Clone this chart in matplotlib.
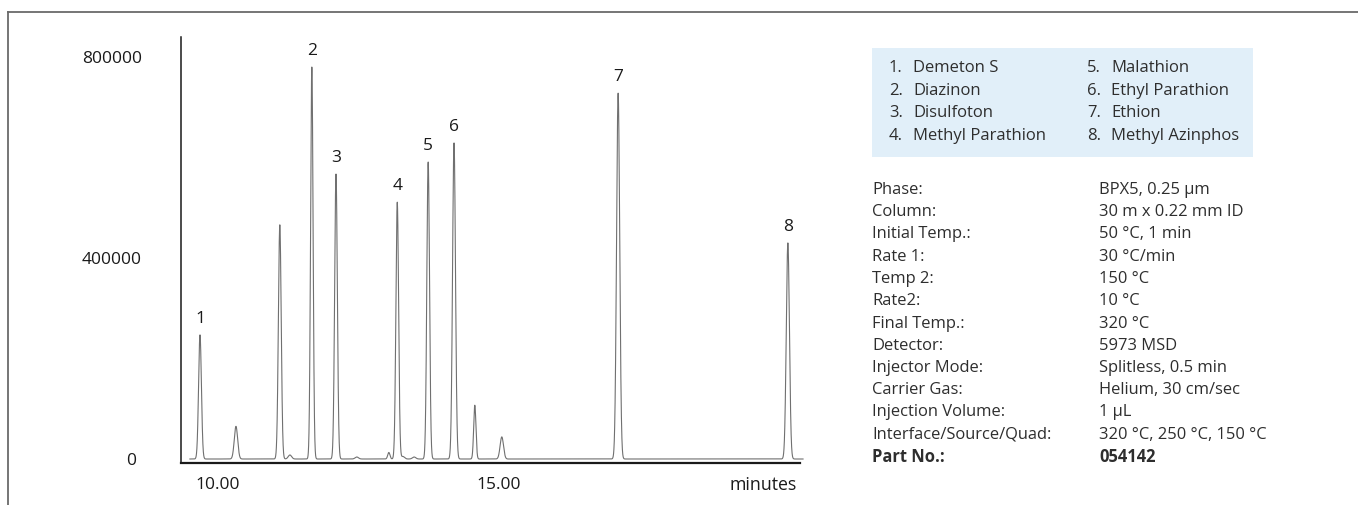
import numpy as np
import matplotlib
matplotlib.use("Agg")
import matplotlib.pyplot as plt
from matplotlib.patches import Rectangle
from matplotlib.lines import Line2D

plt.rcParams['font.family'] = ['Open Sans', 'DejaVu Sans']

# ---- data ----
peak_times = [9.68, 10.32, 11.10, 11.28, 11.67, 12.10, 12.47, 13.04, 13.19, 13.29, 13.49, 13.74, 14.20, 14.57, 15.05, 17.12, 20.14]
peak_heights = [247000, 65000, 466000, 8000, 780000, 567000, 4000, 13000, 511000, 5000, 4000, 591000, 629000, 107000, 44000, 728000, 430000]
peak_labels = ["1", "", "", "", "2", "3", "", "", "4", "", "", "5", "6", "", "", "7", "8"]
peak_widths = [0.025, 0.03, 0.025, 0.03, 0.022, 0.024, 0.03, 0.02, 0.024, 0.03, 0.03, 0.024, 0.026, 0.02, 0.03, 0.028, 0.028]
trace_start, trace_end = 9.50, 20.41

y_ticks = [0, 400000, 800000]
y_ticklabels = ["0", "400000", "800000"]
x_ticks = [10.0, 15.0]
x_ticklabels = ["10.00", "15.00"]
x_unit = "minutes"

compounds_left = ["Demeton S", "Diazinon", "Disulfoton", "Methyl Parathion"]
compounds_right = ["Malathion", "Ethyl Parathion", "Ethion", "Methyl Azinphos"]

param_names = ["Phase:", "Column:", "Initial Temp.:", "Rate 1:", "Temp 2:", "Rate2:",
               "Final Temp.:", "Detector:", "Injector Mode:", "Carrier Gas:",
               "Injection Volume:", "Interface/Source/Quad:", "Part No.:"]
param_values = ["BPX5, 0.25 µm", "30 m x 0.22 mm ID", "50 °C, 1 min", "30 °C/min", "150 °C",
                "10 °C", "320 °C", "5973 MSD", "Splitless, 0.5 min", "Helium, 30 cm/sec",
                "1 µL", "320 °C, 250 °C, 150 °C", "054142"]

# ---- figure ----
W, H = 1358, 505
fig = plt.figure(figsize=(W / 100, H / 100), dpi=100)
fig.patch.set_facecolor("white")

def fx(px):
    return px / W

def fy(py):
    return 1 - py / H

# outer frame (top and left edges)
fig.add_artist(Line2D([fx(8), 1.0], [fy(12), fy(12)], color="#6a6a6a", lw=1.3))
fig.add_artist(Line2D([fx(8), fx(8)], [fy(12), 0.0], color="#6a6a6a", lw=1.3))

ax = fig.add_axes([fx(181), fy(463), fx(800) - fx(181), fy(37) - fy(463)])
t = np.linspace(trace_start, trace_end, 20000)
sig = np.zeros_like(t)
for pt, ph, pw in zip(peak_times, peak_heights, peak_widths):
    sig += ph * np.exp(-0.5 * ((t - pt) / pw) ** 2)
ax.plot(t, sig, color="#707070", lw=0.8, clip_on=False)

for pt, ph, lab in zip(peak_times, peak_heights, peak_labels):
    if lab:
        ax.annotate(lab, (pt, ph), xytext=(0, 6), textcoords="offset points",
                    ha="center", va="bottom", fontsize=12.5, color="#1a1a1a")

ax.set_xlim(9.342, 20.356)
ax.set_ylim(-7960, 839780)
for s in ["top", "right"]:
    ax.spines[s].set_visible(False)
ax.spines["left"].set_color("#1a1a1a")
ax.spines["bottom"].set_color("#1a1a1a")
ax.spines["left"].set_linewidth(1.1)
ax.spines["bottom"].set_linewidth(1.6)
ax.set_yticks(y_ticks)
ax.set_yticklabels(y_ticklabels, fontsize=12.5, color="#1a1a1a")
ax.set_xticks(x_ticks)
ax.set_xticklabels(x_ticklabels, fontsize=12.5, color="#1a1a1a")
ax.tick_params(axis="y", length=0, pad=28)
ax.tick_params(axis="x", length=0, pad=10)
ax.yaxis.get_ticklabels()[0].set_x(-0.01)
ax.text(fx(763), fy(485), x_unit, transform=fig.transFigure, ha="center", va="center",
        fontsize=12.8, color="#1a1a1a")

# legend box
fig.add_artist(Rectangle((fx(872), fy(157)), fx(1253) - fx(872), fy(48) - fy(157),
                         transform=fig.transFigure, facecolor="#e1eff9", edgecolor="none"))
rows_y = [68, 91, 113, 136]
tc = "#2e2e2e"
for i, name in enumerate(compounds_left):
    fig.text(fx(889), fy(rows_y[i]), f"{i + 1}.", ha="left", va="center", fontsize=12, color=tc)
    fig.text(fx(913), fy(rows_y[i]), name, ha="left", va="center", fontsize=12, color=tc)
for i, name in enumerate(compounds_right):
    fig.text(fx(1087), fy(rows_y[i]), f"{i + 5}.", ha="left", va="center", fontsize=12, color=tc)
    fig.text(fx(1111), fy(rows_y[i]), name, ha="left", va="center", fontsize=12, color=tc)

# parameters
for i, (n, v) in enumerate(zip(param_names, param_values)):
    y = 190 + i * 22.25
    bold = (i == len(param_names) - 1)
    fw = "bold" if bold else "normal"
    fig.text(fx(872), fy(y), n, ha="left", va="center", fontsize=11.9, color=tc, fontweight=fw)
    fig.text(fx(1099), fy(y), v, ha="left", va="center", fontsize=11.9, color=tc, fontweight=fw)

fig.savefig("out.png", dpi=100, facecolor="white")
